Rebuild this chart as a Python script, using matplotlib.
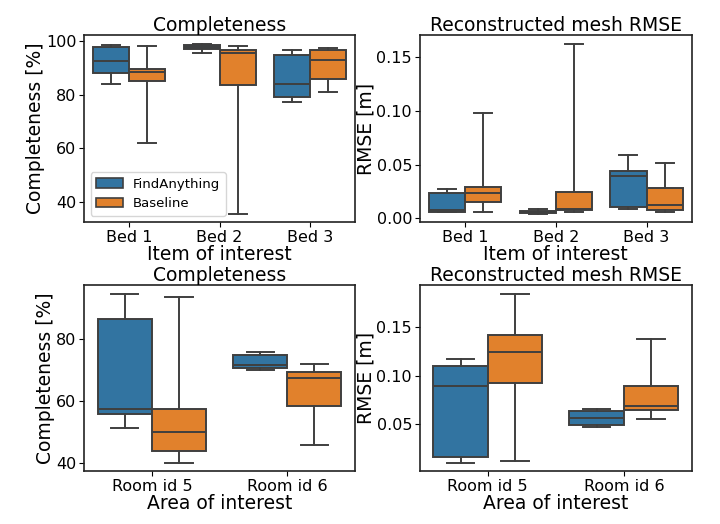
import matplotlib
matplotlib.use("Agg")
import matplotlib.pyplot as plt
from matplotlib.patches import Patch
import numpy as np

# ---- data (box stats: whislo, q1, median, q3, whishi) ----
methods = ["FindAnything", "Baseline"]
beds = ["Bed 1", "Bed 2", "Bed 3"]
rooms = ["Room id 5", "Room id 6"]

bed_comp_fa = [[84.0, 88.0, 92.5, 97.7, 98.7],
               [95.5, 97.0, 98.0, 98.7, 99.1],
               [77.1, 79.3, 84.0, 95.0, 96.6]]
bed_comp_base = [[62.0, 85.0, 88.3, 89.6, 98.2],
                 [35.5, 83.8, 95.7, 96.6, 98.2],
                 [81.0, 86.0, 93.0, 96.7, 97.6]]

bed_rmse_fa = [[0.0055, 0.0062, 0.0080, 0.0233, 0.0273],
               [0.0043, 0.0050, 0.0060, 0.0068, 0.0087],
               [0.0084, 0.0109, 0.0394, 0.0444, 0.0590]]
bed_rmse_base = [[0.0056, 0.0155, 0.0239, 0.0295, 0.0978],
                 [0.0056, 0.0075, 0.0084, 0.0248, 0.1627],
                 [0.0062, 0.0078, 0.0124, 0.0286, 0.0519]]

room_comp_fa = [[51.3, 55.8, 57.4, 86.4, 94.5],
                [69.7, 70.4, 71.3, 74.7, 75.7]]
room_comp_base = [[40.0, 43.7, 49.9, 57.2, 93.3],
                  [45.8, 58.2, 67.4, 69.3, 71.9]]

room_rmse_fa = [[0.0108, 0.0166, 0.0892, 0.1095, 0.1166],
                [0.0476, 0.0497, 0.0564, 0.0636, 0.0659]]
room_rmse_base = [[0.0125, 0.0922, 0.1244, 0.1410, 0.1840],
                  [0.0554, 0.0644, 0.0688, 0.0888, 0.1376]]

colors = ["#3274a1", "#e1812c"]
line_col = "#3f3f3f"


def stats(rows):
    return [dict(whislo=r[0], q1=r[1], med=r[2], q3=r[3], whishi=r[4], fliers=[])
            for r in rows]


def draw(ax, cats, fa, base, title, xlabel, ylabel):
    n = len(cats)
    x = np.arange(n)
    w = 0.4
    for series, off, col in [(fa, -0.2, colors[0]), (base, 0.2, colors[1])]:
        ax.bxp(stats(series), positions=x + off, widths=w, patch_artist=True,
               showfliers=False, manage_ticks=False,
               boxprops=dict(facecolor=col, edgecolor=line_col, linewidth=1.4),
               medianprops=dict(color=line_col, linewidth=1.4),
               whiskerprops=dict(color=line_col, linewidth=1.4),
               capprops=dict(color=line_col, linewidth=1.4))
    ax.set_xticks(x)
    ax.set_xticklabels(cats)
    ax.set_xlim(-0.5, n - 0.5)
    ax.set_title(title, fontsize=13.5, pad=3)
    ax.set_xlabel(xlabel, fontsize=13.5, labelpad=0)
    ax.set_ylabel(ylabel, fontsize=13.5, labelpad=1)
    ax.tick_params(labelsize=11.5, length=3.5, pad=2)
    for s in ax.spines.values():
        s.set_linewidth(1.2)
        s.set_color("#222222")


fig = plt.figure(figsize=(7.2, 5.24), dpi=100)
ax1 = fig.add_axes([0.117, 0.576, 0.376, 0.357])
ax2 = fig.add_axes([0.583, 0.576, 0.378, 0.357])
ax3 = fig.add_axes([0.117, 0.101, 0.376, 0.355])
ax4 = fig.add_axes([0.583, 0.101, 0.378, 0.355])

draw(ax1, beds, bed_comp_fa, bed_comp_base, "Completeness", "Item of interest", "Completeness [%]")
draw(ax2, beds, bed_rmse_fa, bed_rmse_base, "Reconstructed mesh RMSE", "Item of interest", "RMSE [m]")
draw(ax3, rooms, room_comp_fa, room_comp_base, "Completeness", "Area of interest", "Completeness [%]")
draw(ax4, rooms, room_rmse_fa, room_rmse_base, "Reconstructed mesh RMSE", "Area of interest", "RMSE [m]")

ax1.set_yticks([40, 60, 80, 100])
ax2.set_yticks([0.0, 0.05, 0.10, 0.15])
ax3.set_yticks([40, 60, 80])
ax4.set_yticks([0.05, 0.10, 0.15])

handles = [Patch(facecolor=colors[0], edgecolor=line_col, linewidth=1.2, label=methods[0]),
           Patch(facecolor=colors[1], edgecolor=line_col, linewidth=1.2, label=methods[1])]
ax1.legend(handles=handles, loc="lower left", fontsize=9.5, handlelength=2.0, framealpha=0.8)

fig.savefig("out.png", dpi=100)
